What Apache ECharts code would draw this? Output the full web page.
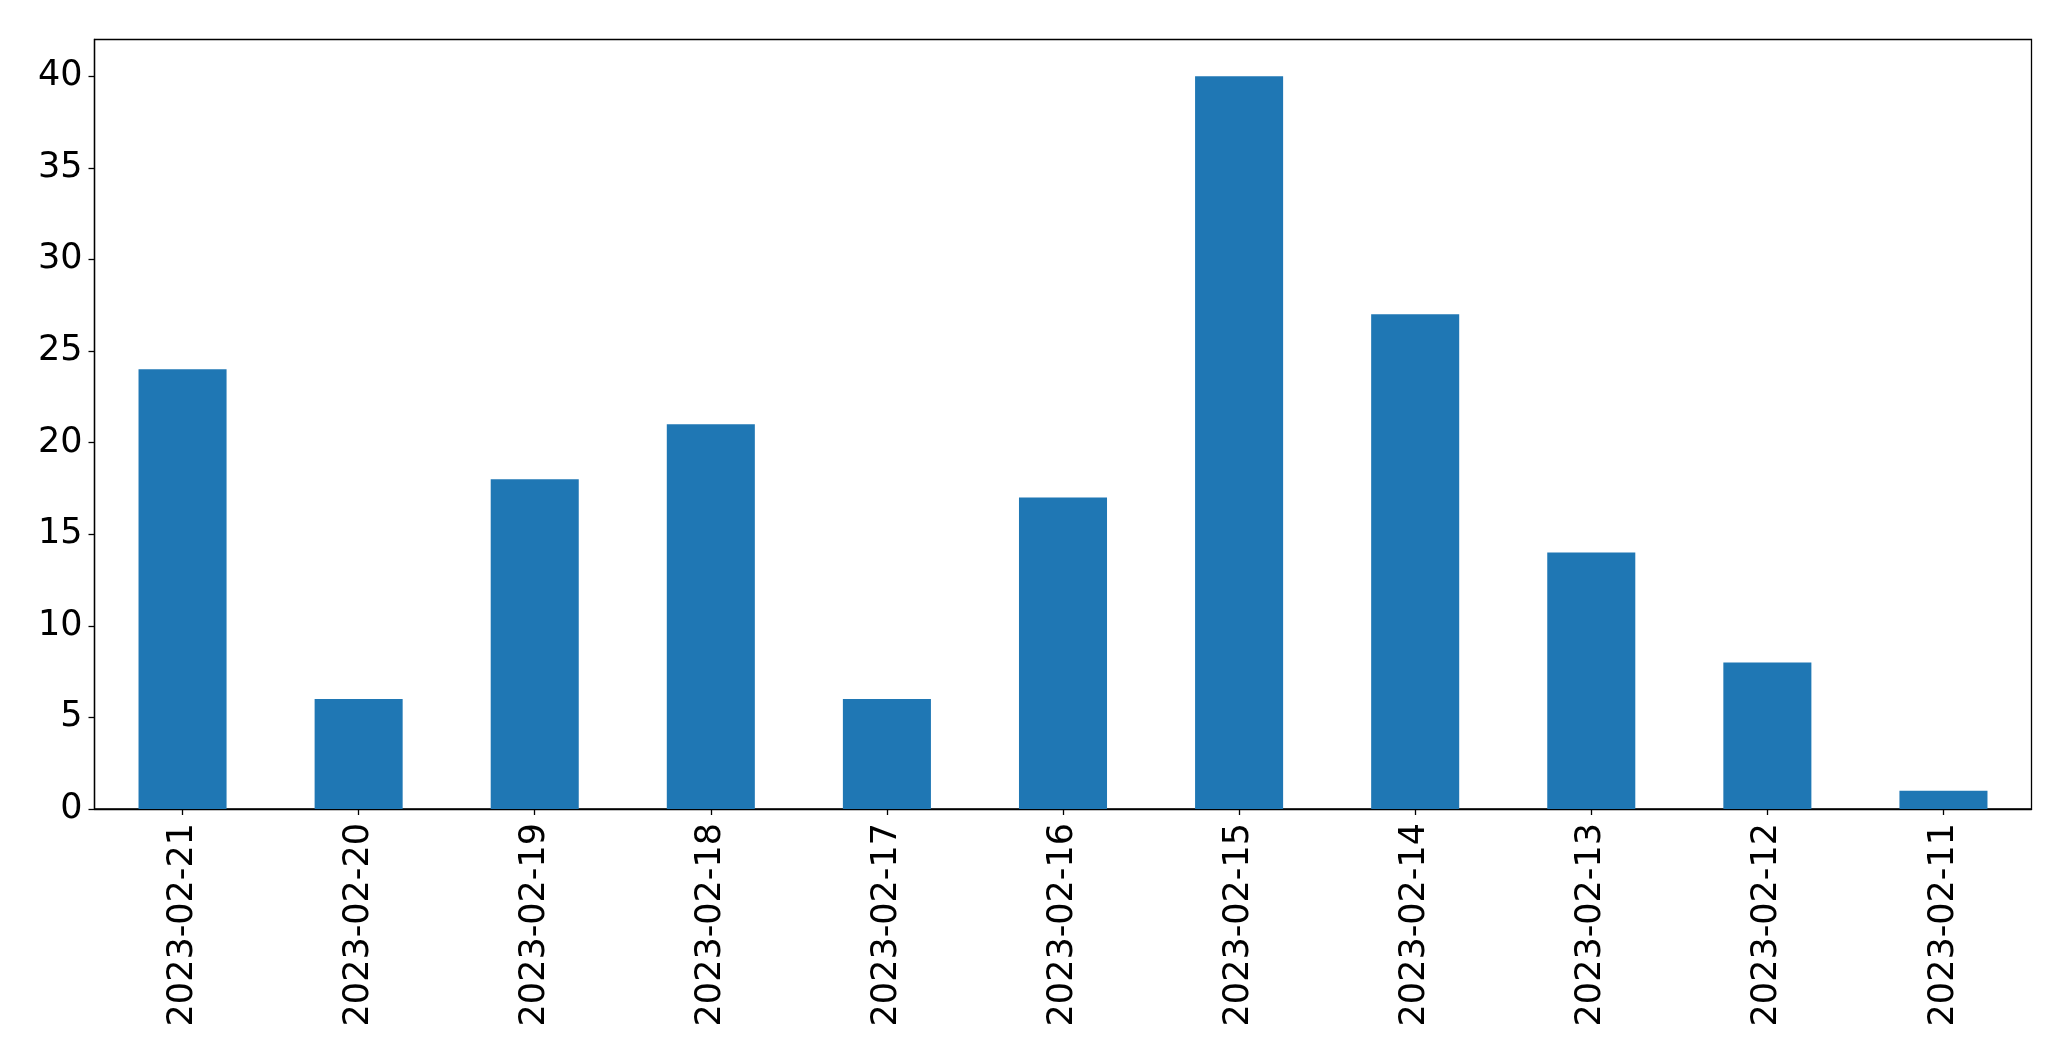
<!DOCTYPE html>
<html>
<head>
<meta charset="utf-8">
<script src="https://cdn.jsdelivr.net/npm/echarts@6/dist/echarts.min.js"></script>
<style>
html,body{margin:0;padding:0;background:#fff;}
#chart{width:2071px;height:1061px;}
</style>
</head>
<body>
<div id="chart"></div>
<script>
const categories = ["2023-02-21","2023-02-20","2023-02-19","2023-02-18","2023-02-17","2023-02-16","2023-02-15","2023-02-14","2023-02-13","2023-02-12","2023-02-11"];
const counts = [24, 6, 18, 21, 6, 17, 40, 27, 14, 8, 1];
const yTicks = [0, 5, 10, 15, 20, 25, 30, 35, 40];

const chart = echarts.init(document.getElementById('chart'), null, {renderer: 'canvas'});
const font = 'DejaVu Sans';
chart.setOption({
  animation: false,
  backgroundColor: '#ffffff',
  grid: {
    left: 94.5, right: 39.5, top: 39.5, bottom: 252,
    show: true, borderColor: '#000', borderWidth: 1.3, backgroundColor: 'transparent'
  },
  xAxis: {
    type: 'category',
    data: categories,
    axisLine: {show: true, lineStyle: {color: '#000', width: 1.3}},
    axisTick: {show: true, alignWithLabel: true, length: 6, lineStyle: {color: '#000', width: 1.3}},
    axisLabel: {rotate: 90, margin: 14, color: '#000', fontFamily: font, fontSize: 35, interval: 0},
    splitLine: {show: false}
  },
  yAxis: {
    type: 'value',
    min: 0, max: 42,
    axisLine: {show: true, lineStyle: {color: '#000', width: 1.3}},
    axisTick: {show: true, length: 6, customValues: yTicks, lineStyle: {color: '#000', width: 1.3}},
    axisLabel: {margin: 12, color: '#000', fontFamily: font, fontSize: 35, customValues: yTicks},
    splitLine: {show: false}
  },
  series: [{
    type: 'bar',
    data: counts,
    barWidth: '50%',
    itemStyle: {color: '#1f77b4'}
  }]
});
</script>
</body>
</html>
